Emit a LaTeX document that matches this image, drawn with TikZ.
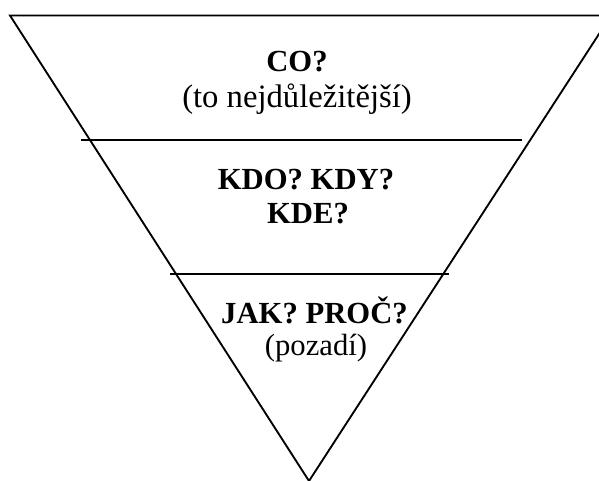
\documentclass[tikz,border=0pt]{standalone}
\usepackage{fontspec}
\setmainfont{Liberation Serif}

\begin{document}
\begin{tikzpicture}[x=0.75pt,y=-0.75pt,
  lbl/.style={anchor=base,inner sep=0pt,font=\fontsize{23}{26}\selectfont},
  hd/.style={lbl,font=\fontsize{23}{26}\selectfont\bfseries}]
\useasboundingbox (0,0) rectangle (599,481);
\clip (0,0) rectangle (599,481);
%\draw (0,0) rectangle (599,481);
% triangle
\coordinate (tl) at (10,15.5);
\coordinate (tr) at (611,15.5);
\coordinate (apex) at (309,481);
\draw[line width=1.4pt] (tl) -- (tr) -- (apex) -- cycle;
% dividing lines
\coordinate (a1) at (81,140);
\coordinate (a2) at (522,140);
\coordinate (b1) at (170,274);
\coordinate (b2) at (449,274);
\draw[line width=1.7pt] (a1) -- (a2);
\draw[line width=1.7pt] (b1) -- (b2);
% texts
\node[hd] (co) at (297,72) {CO?};
\node[lbl,font=\fontsize{24.5}{28}\selectfont] (nej) at (297,108) {(to nejdůležitější)};
\node[hd] (kdo) at (306,190) {KDO? KDY?};
\node[hd] (kde) at (308,223) {KDE?};
\node[hd] (jak) at (314.5,323) {JAK? PROČ?};
\node[lbl] (poz) at (316,355) {(pozadí)};
\end{tikzpicture}
\end{document}
